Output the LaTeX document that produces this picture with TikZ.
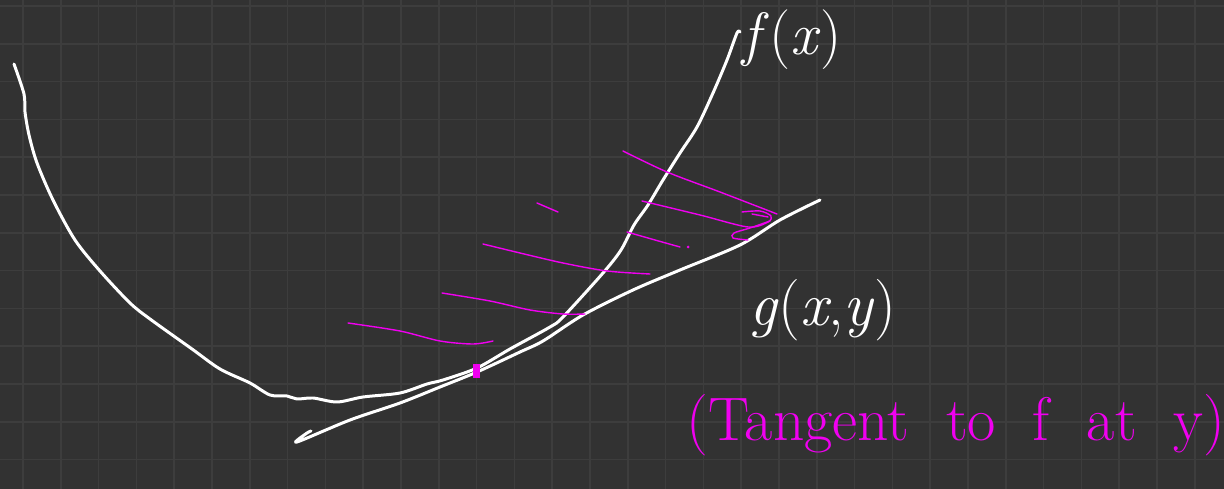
\documentclass[tikz,border=0pt]{standalone}
\definecolor{board}{HTML}{323232}
\definecolor{boardgrid}{HTML}{3D3D3D}
\definecolor{pink}{HTML}{F000F0}
\tikzset{
  gridline/.style={draw=boardgrid,line width=0.9pt},
  chalk/.style={draw=white,line width=1.7pt,line cap=round,line join=round},
  hatch/.style={draw=pink,line width=0.8pt,line cap=round},
  chalktext/.style={text=white,inner sep=0pt},
  pinktext/.style={text=pink,inner sep=0pt}
}
\begin{document}
\begin{tikzpicture}[x=0.02cm,y=-0.02cm]
\fill[board] (0,0) rectangle (1224,489);
\useasboundingbox (0,0) rectangle (1224,489);
\foreach \i in {0,...,32} \draw[gridline] (23+37.8*\i,0) -- (23+37.8*\i,489);
\foreach \j in {0,...,12} \draw[gridline] (0,6+37.8*\j) -- (1224,6+37.8*\j);

\draw[chalk] plot[smooth,tension=0.5] coordinates {(14,64) (24,94) (25,112) (29,135) (37,163) (53,200) (75,240) (100,271) (130,303) (150,319) (192,349) (220,369) (250,383) (270,395) (287,396) (297,399) (313,398) (337,402) (363,397) (400,393) (427,384) (443,380) (477,368) (510,349) (550,327) (563,317) (603,273) (621,250) (634,225) (648,205) (663,180) (680,153) (697,127) (713,93) (727,60) (737,33) (740,32)};
\draw[chalk] plot[smooth,tension=0.5] coordinates {(311,431) (307,433) (297,442) (350,420) (400,403) (440,387) (477,372) (520,352) (543,341) (583,315) (633,290) (680,270) (740,245) (780,220) (820,200)};
\fill[pink] (473,364) rectangle (480,378);

\draw[hatch] plot[smooth] coordinates {(348,323) (400,331) (440,341) (473,344) (493,341)};
\draw[hatch] plot[smooth] coordinates {(442,293) (490,301) (530,310) (563,314) (585,314)};
\draw[hatch] plot[smooth] coordinates {(483,244) (520,253) (563,263) (607,271) (650,274)};
\draw[hatch] (537,203) -- (558,212);
\draw[hatch] plot[smooth] coordinates {(627,232) (655,240) (680,247)};
\fill[pink] (688,247) circle (1.5);
\draw[hatch] plot[smooth] coordinates {(642,201) (700,215) (748,227) (768,222) (771,216) (760,211) (742,212)};
\draw[hatch] plot[smooth] coordinates {(770,221) (750,228) (734,233) (733,238) (748,240)};
\draw[hatch] (752,214) -- (768,217);
\draw[hatch] plot[smooth] coordinates {(623,151) (667,172) (720,192) (777,214)};

\node[chalktext] (flabel) at (792,40) {\fontsize{34}{40}\selectfont\textit{f}(\textit{x})};
\node[chalktext] (glabel) at (823,310) {\fontsize{35}{40}\selectfont\textit{g}(\textit{x},\textit{y})};
\node[pinktext] (tangentnote) at (956,425) {\fontsize{35}{40}\selectfont\spaceskip=0.6em (Tangent to f at y)};
\end{tikzpicture}
\end{document}
